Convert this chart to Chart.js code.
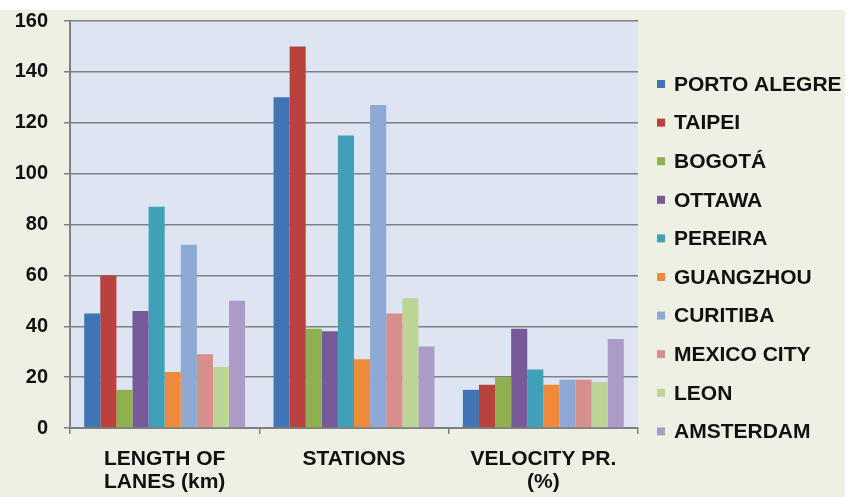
<!DOCTYPE html>
<html>
<head>
<meta charset="utf-8">
<script src="https://cdn.jsdelivr.net/npm/chart.js@4/dist/chart.umd.min.js"></script>
<style>
  html, body { margin: 0; padding: 0; background: #ffffff; }
  #wrap { width: 856px; height: 497px; position: relative; }
</style>
</head>
<body>
<div id="wrap"><canvas id="c" width="856" height="497"></canvas></div>
<script>
// Categories along the x axis (multi-line labels)
const categories = [
  ['LENGTH OF', 'LANES (km)'],
  'STATIONS',
  ['VELOCITY PR.', '(%)']
];

// City series names
const cities = [
  'PORTO ALEGRE', 'TAIPEI', 'BOGOTÁ', 'OTTAWA', 'PEREIRA',
  'GUANGZHOU', 'CURITIBA', 'MEXICO CITY', 'LEON', 'AMSTERDAM'
];

// Values per city: [length of lanes, stations, velocity pr.]
const portoAlegre = [45, 130, 15];
const taipei      = [60, 150, 17];
const bogota      = [15, 39, 20];
const ottawa      = [46, 38, 39];
const pereira     = [87, 115, 23];
const guangzhou   = [22, 27, 17];
const curitiba    = [72, 127, 19];
const mexicoCity  = [29, 45, 19];
const leon        = [24, 51, 18];
const amsterdam   = [50, 32, 35];

// Y axis tick values
const yTicks = [0, 20, 40, 60, 80, 100, 120, 140, 160];

const seriesValues = [portoAlegre, taipei, bogota, ottawa, pereira,
                      guangzhou, curitiba, mexicoCity, leon, amsterdam];
const colors = ['#4174b2', '#b9413e', '#8fb04f', '#775a9a', '#3fa0b8',
                '#ef8a3c', '#8ea9d4', '#d78f8d', '#bcd495', '#ab9bc6'];

const FONT = '"Liberation Sans", Arial, sans-serif';

// Page background, plot-area fill and side legend
const decor = {
  id: 'decor',
  beforeDraw(chart) {
    const { ctx, chartArea: a } = chart;
    ctx.save();
    ctx.fillStyle = '#ffffff';
    ctx.fillRect(0, 0, chart.width, chart.height);
    ctx.fillStyle = '#eef0e3';
    ctx.fillRect(0, 10, 845, chart.height - 10);
    ctx.fillStyle = '#dce5f1';
    ctx.fillRect(a.left, a.top, a.right - a.left, a.bottom - a.top);
    ctx.restore();
  },
  afterDraw(chart) {
    const { ctx } = chart;
    ctx.save();
    ctx.font = 'bold 21px ' + FONT;
    ctx.textBaseline = 'middle';
    chart.data.datasets.forEach((ds, i) => {
      const y = 84 + i * 38.6;
      ctx.fillStyle = ds.backgroundColor;
      ctx.fillRect(657, y - 4, 8, 8);
      ctx.fillStyle = '#111111';
      ctx.fillText(ds.label, 674, y + 1);
    });
    ctx.restore();
  }
};

new Chart(document.getElementById('c'), {
  type: 'bar',
  data: {
    labels: categories,
    datasets: cities.map((name, i) => ({
      label: name,
      data: seriesValues[i],
      backgroundColor: colors[i],
      borderWidth: 0
    }))
  },
  options: {
    responsive: false,
    animation: false,
    devicePixelRatio: 1,
    layout: { padding: { top: 21, right: 218, bottom: 0, left: 0 } },
    plugins: {
      legend: { display: false },
      tooltip: { enabled: false }
    },
    datasets: {
      bar: { categoryPercentage: 0.85, barPercentage: 1 }
    },
    scales: {
      x: {
        grid: {
          display: true,
          drawOnChartArea: false,
          drawTicks: true,
          tickLength: 6,
          offset: true,
          color: '#808080',
          lineWidth: 1.5
        },
        border: { color: '#808080', width: 2 },
        ticks: {
          color: '#111111',
          font: { family: FONT, size: 21, weight: 'bold', lineHeight: '23px' },
          padding: 14,
          maxRotation: 0,
          autoSkip: false
        },
        afterFit(scale) {
          scale.height = 69;
          scale.paddingLeft = 0;
          scale.paddingRight = 0;
        }
      },
      y: {
        min: 0,
        max: 160,
        afterBuildTicks(scale) { scale.ticks = yTicks.map(v => ({ value: v })); },
        grid: {
          color: '#808080',
          lineWidth: 1.5,
          tickLength: 6
        },
        border: { color: '#808080', width: 2 },
        ticks: {
          color: '#111111',
          font: { family: FONT, size: 20, weight: 'bold' },
          padding: 16
        },
        afterFit(scale) {
          scale.width = 70;
          scale.paddingTop = 0;
          scale.paddingBottom = 0;
        }
      }
    }
  },
  plugins: [decor]
});
</script>
</body>
</html>
